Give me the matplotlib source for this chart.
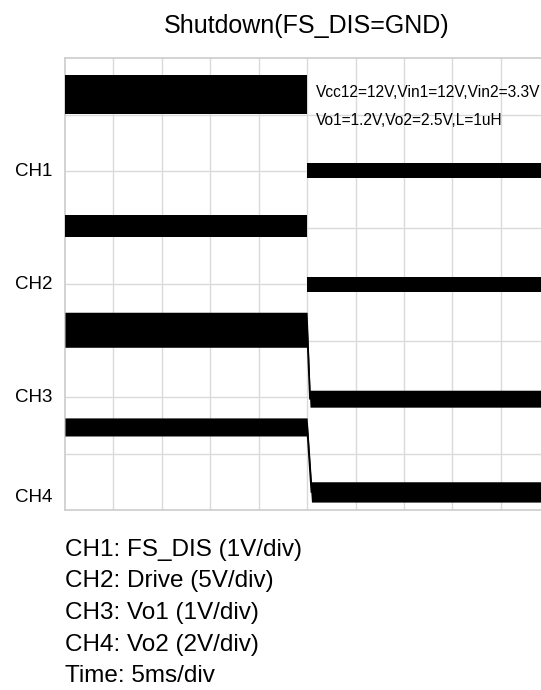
import numpy as np
import matplotlib
matplotlib.use('Agg')
import matplotlib.pyplot as plt

plt.rcParams['font.family'] = ['Liberation Sans', 'DejaVu Sans']

# scope screen, units are divisions (x: 5ms/div, y: 8 divisions)
channels = ['CH1', 'CH2', 'CH3', 'CH4']
level_before = [7.35, 5.03, 3.19, 1.47]   # trace centre before shutdown
level_after = [6.01, 3.99, 1.97, 0.32]    # trace centre after shutdown
noise_before = [0.345, 0.19, 0.31, 0.16]  # half height of noise band
noise_after = [0.13, 0.13, 0.15, 0.18]
fall_start = 5.0
fall_end = [5.0, 5.0, 5.06, 5.09]
marker_level = [6.0, 4.0, 2.0, 0.23]      # ground markers on the left

x_max = 9.83
n_xdiv = 10
n_ydiv = 8

title = 'Shutdown(FS_DIS=GND)'
cond_lines = ['Vcc12=12V,Vin1=12V,Vin2=3.3V', 'Vo1=1.2V,Vo2=2.5V,L=1uH']
legend_lines = ['CH1: FS_DIS (1V/div)', 'CH2: Drive (5V/div)', 'CH3: Vo1 (1V/div)',
                'CH4: Vo2 (2V/div)', 'Time: 5ms/div']

W, H = 541, 690
fig = plt.figure(figsize=(W / 100, H / 100), dpi=100)
ax = fig.add_axes([65 / W, (H - 510) / H, (W - 65) / W, (510 - 58) / H])

# graticule
for i in range(1, n_xdiv + 1):
    ax.axvline(i, color='#dadada', lw=1.0, zorder=0)
for j in range(1, n_ydiv):
    ax.axhline(j, color='#dadada', lw=1.0, zorder=0)

for k in range(len(channels)):
    xs = np.array([0, fall_start, fall_end[k], x_max])
    mid = np.array([level_before[k], level_before[k], level_after[k], level_after[k]])
    hw = np.array([noise_before[k], noise_before[k], noise_after[k], noise_after[k]])
    ax.fill_between(xs, mid - hw, mid + hw, color='black', lw=0, zorder=3)
    # slow edges show up as a thin falling line, fast ones do not
    if fall_end[k] > fall_start:
        ax.plot(xs[1:3], mid[1:3], color='black', lw=1.3, zorder=4)
    ax.annotate(channels[k], xy=(0, marker_level[k]), xycoords=ax.get_yaxis_transform(),
                xytext=(-13, 0), textcoords='offset pixels', ha='right', va='center',
                fontsize=13.5, annotation_clip=False)

ax.set_xlim(0, x_max)
ax.set_ylim(0, n_ydiv)
ax.set_xticks([])
ax.set_yticks([])
for side in ['left', 'top', 'bottom']:
    ax.spines[side].set_color('#cccccc')
    ax.spines[side].set_linewidth(1.2)
ax.spines['right'].set_visible(False)

fig.text(307 / W, (H - 33) / H, title, ha='center', va='baseline', fontsize=18)

for i, line in enumerate(cond_lines):
    fig.text(316 / W, (H - 97 - 28 * i) / H, line, ha='left', va='baseline', fontsize=11.2)

for i, line in enumerate(legend_lines):
    fig.text(65 / W, (H - 556 - 31.5 * i) / H, line, ha='left', va='baseline', fontsize=17.5)

fig.savefig('out.png', dpi=100)
